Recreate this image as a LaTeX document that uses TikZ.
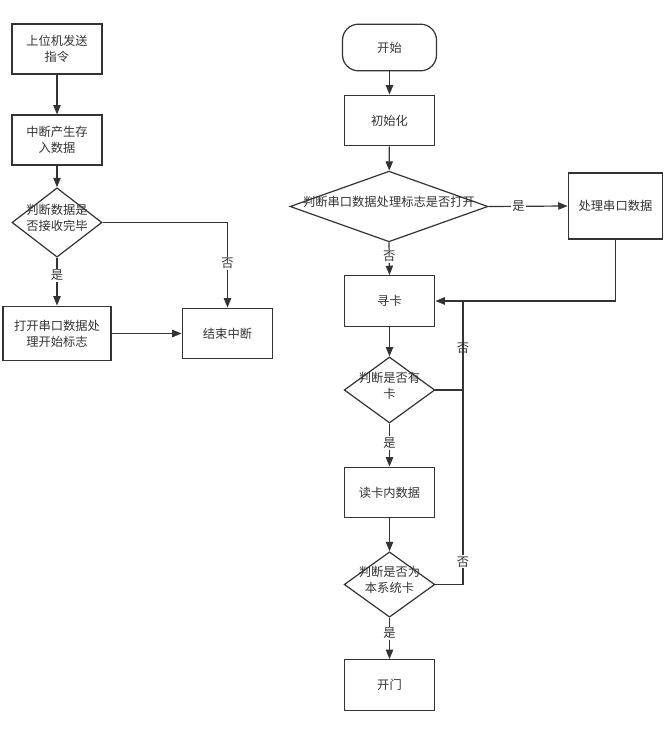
\documentclass[tikz,border=0pt]{standalone}
\usepackage{fontspec}
\setmainfont{Noto Sans CJK SC}
\usetikzlibrary{arrows.meta,shapes.geometric}
\definecolor{ink}{HTML}{333333}
% zero-size text so that the diamond keeps its own size
\newcommand{\diatext}[1]{\raisebox{0pt}[0pt][0pt]{\makebox[0pt]{\begin{tabular}{@{}c@{}}#1\end{tabular}}}}

\begin{document}
\begin{tikzpicture}
[x=0.75pt,y=-0.75pt,font=\fontsize{9.2}{12}\selectfont,
 box/.style={draw=ink,line width=0.9pt,text=ink,align=center,minimum width=68pt,minimum height=38pt,inner sep=0pt},
 term/.style={box,rounded corners=12pt,minimum width=70.5pt,minimum height=35pt},
 dia/.style={diamond,draw=ink,line width=0.9pt,text=ink,inner sep=0pt,minimum width=68pt,minimum height=50pt},
 line/.style={draw=ink,line width=0.9pt},
 arrow/.style={line,-{Triangle[length=7pt,width=5.5pt]}},
 lbl/.style={fill=white,text=ink,inner sep=1pt}]

\useasboundingbox (0,0) rectangle (665,734);

% left: interrupt
\node[box,minimum width=67.5pt,minimum height=37.5pt](send) at (57,49){上位机发送\\指令};
\node[box,minimum width=67.5pt,minimum height=37.5pt](store) at (57,140){中断产生存\\入数据};
\node[dia,minimum width=67.5pt,minimum height=52pt](recvd) at (57,222.5){\diatext{判断数据是\\否接收完毕}};
\node[box,minimum width=81pt,minimum height=41pt](flag) at (57,333.5){打开串口数据处\\理开始标志};
\node[box](endint) at (227.5,333.5){结束中断};

\draw[arrow] (send) -- (store);
\draw[arrow] (store) -- (recvd);
\draw[arrow] (recvd.south) -- node[lbl,pos=0.37]{是} (flag.north);
\draw[arrow] (recvd.east) -| node[lbl,pos=0.74]{否} (endint.north);
\draw[arrow] (flag) -- (endint);

% right: main loop
\node[term](start) at (389.5,47.5){开始};
\node[box](init) at (389.5,120.5){初始化};
\node[dia,minimum width=148.5pt,minimum height=53pt](serd) at (389,206.5){\diatext{判断串口数据处理标志是否打开}};
\node[box,minimum width=71pt,minimum height=49.5pt](proc) at (615.5,206){处理串口数据};
\node[box](find) at (389.5,301){寻卡};
\node[dia,minimum width=68pt,minimum height=49.5pt](hasd) at (389.5,390){\diatext{判断是否有\\卡}};
\node[box](read) at (389.5,492.5){读卡内数据};
\node[dia,minimum width=68pt,minimum height=49pt](sysd) at (389.5,584.5){\diatext{判断是否为\\本系统卡}};
\node[box](open) at (389.5,685){开门};
\coordinate (back) at (463,301);

\draw[arrow] (start) -- (init);
\draw[arrow] (init) -- (serd);
\draw[arrow] (serd.east) -- node[lbl,pos=0.38]{是} (proc.west);
\draw[arrow] (serd.south) -- node[lbl,pos=0.42]{否} (find.north);
\draw[arrow] (proc.south) |- (find.east);
\draw[arrow] (find) -- (hasd);
\draw[line] (hasd.east) -| node[lbl,pos=0.735]{否} (back);
\draw[arrow] (hasd.south) -- node[lbl,pos=0.45]{是} (read.north);
\draw[arrow] (read) -- (sysd);
\draw[line] (sysd.east) -| node[lbl,pos=0.54]{否} (back);
\draw[arrow] (sysd.south) -- node[lbl,pos=0.38]{是} (open.north);

\end{tikzpicture}
\end{document}
